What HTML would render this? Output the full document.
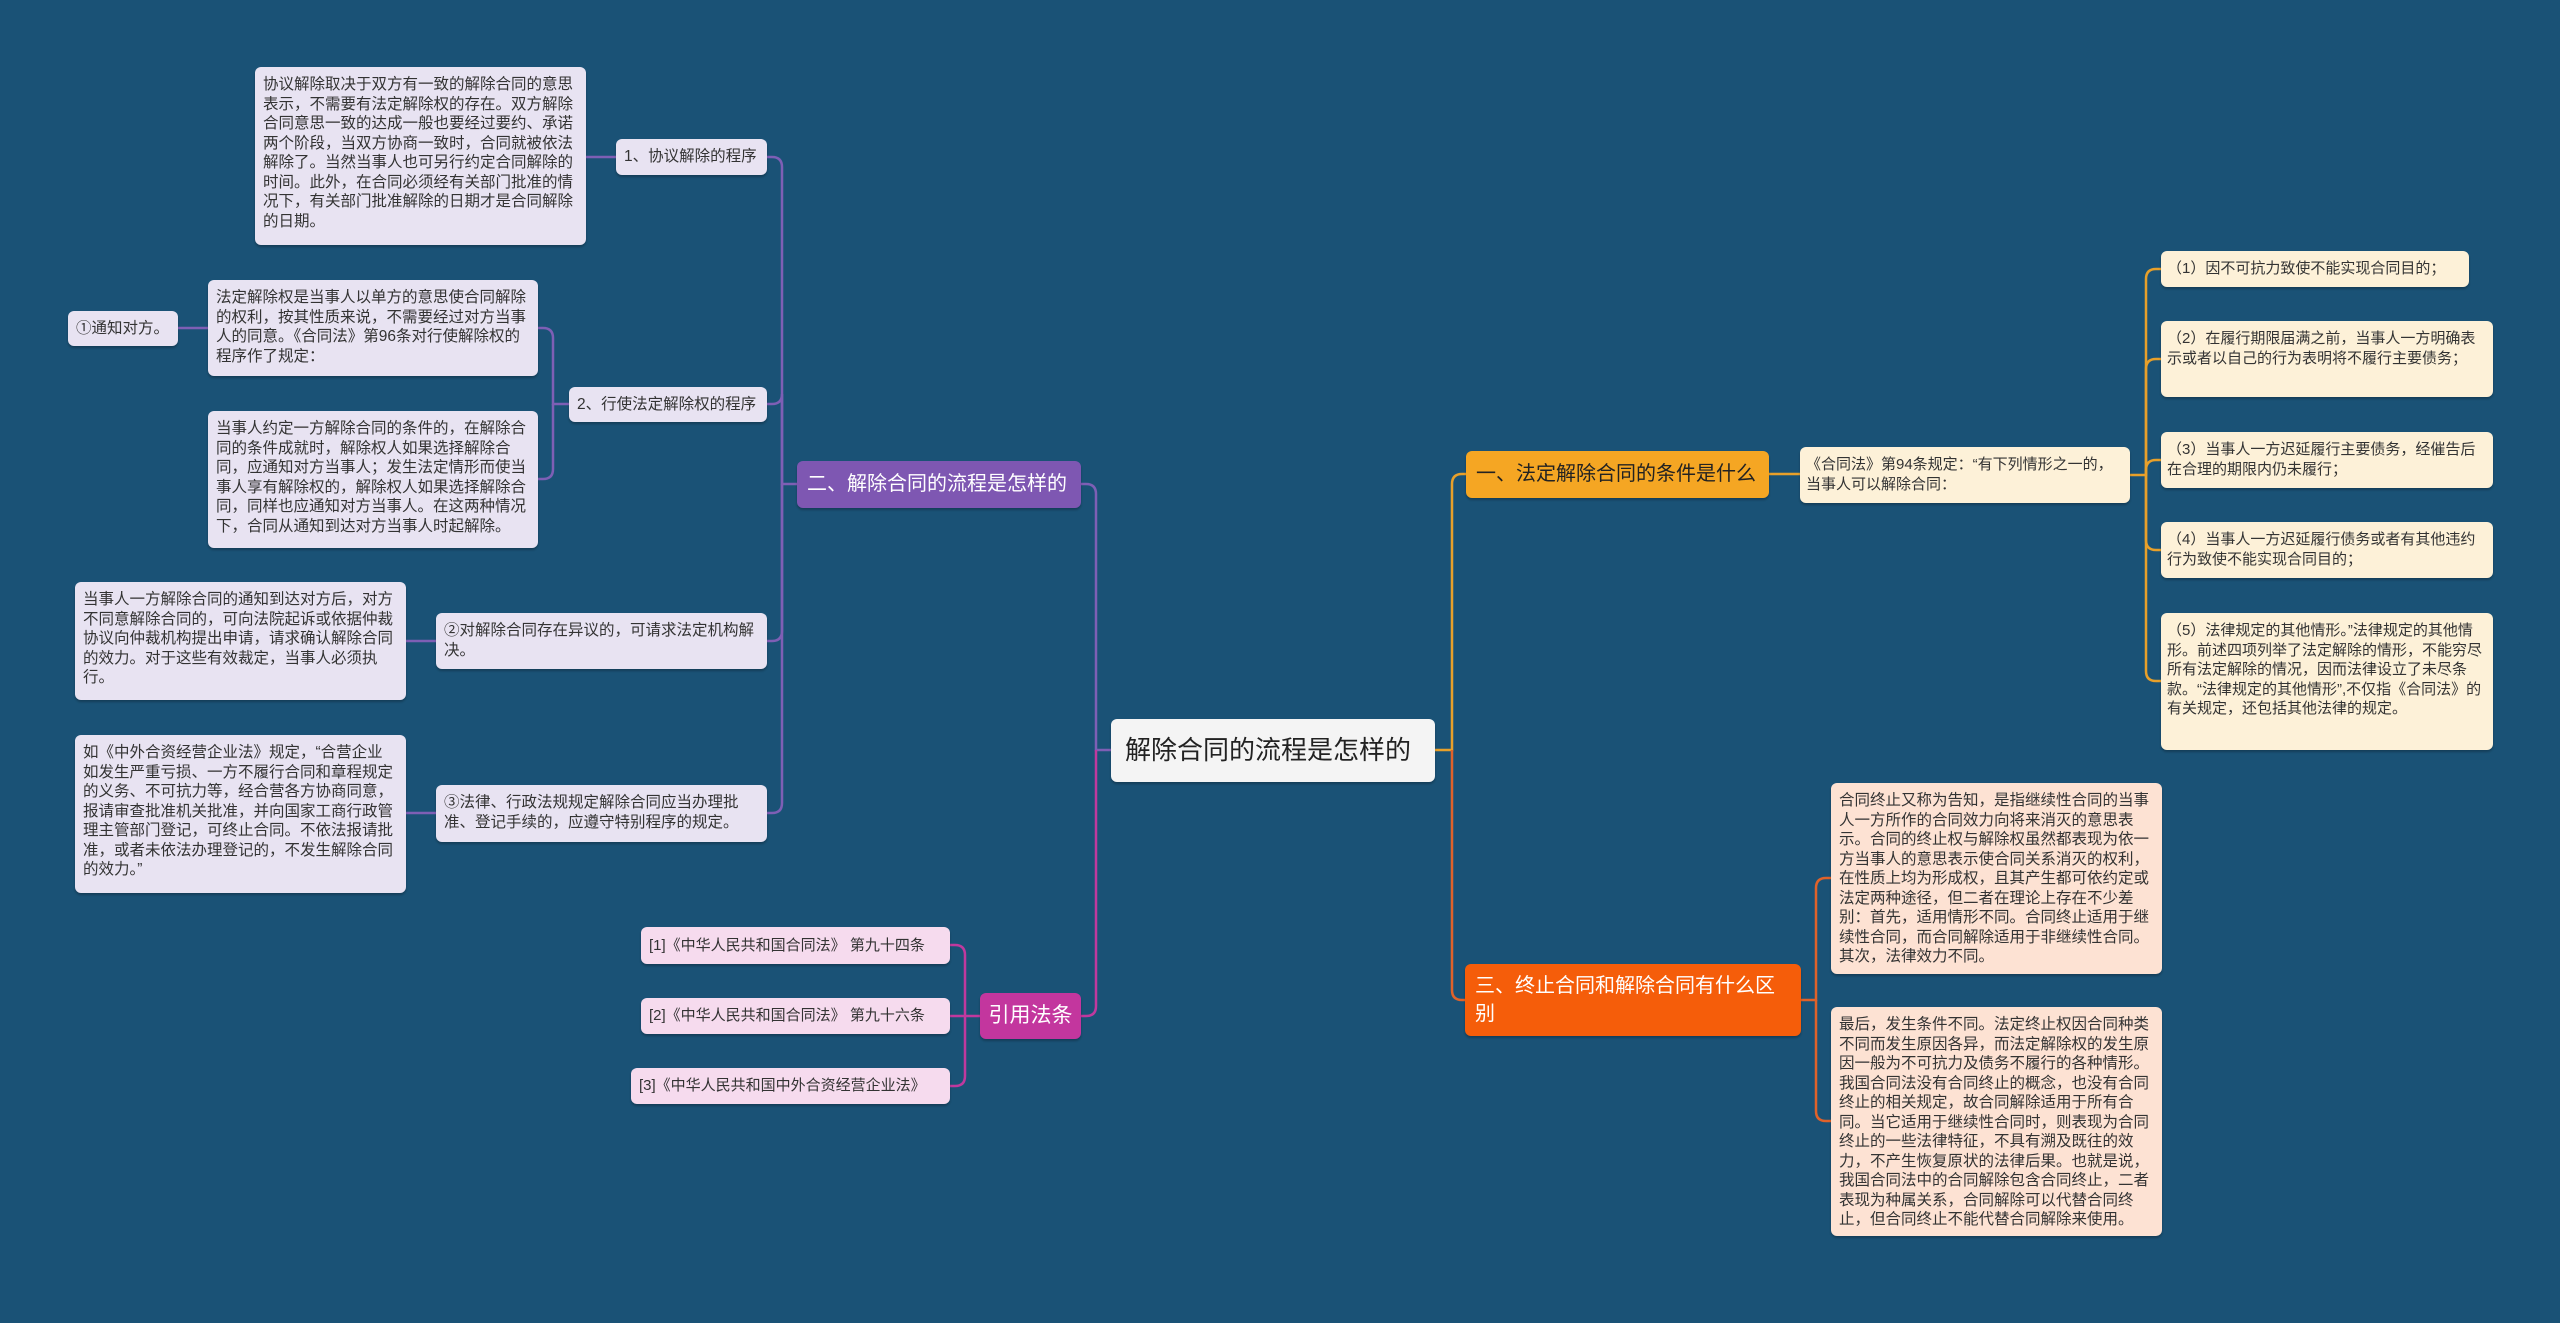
<!DOCTYPE html>
<html><head><meta charset="utf-8"><style>
body{margin:0;width:2560px;height:1323px;background:#1a5276;position:relative;overflow:hidden;font-family:"Liberation Sans","Noto Sans CJK SC",sans-serif}
.n{position:absolute;box-sizing:border-box;border-radius:6px;color:#333;font-size:15.5px;line-height:19.5px;padding:8px 8px;word-break:break-all;box-shadow:0 2px 2px rgba(0,0,0,.25)}
.p{background:#e8e3f2}.y{background:#fdf1d8;font-size:15px;padding:8px 6px}.r{background:#fde2d3}.k{background:#f6dbee}
.t{display:flex;align-items:center;white-space:nowrap;padding-top:0;padding-bottom:0}
svg{position:absolute;left:0;top:0}
</style></head><body>
<svg width="2560" height="1323" fill="none" stroke-width="2.5">
<g stroke="#7e5fb5">
<path d="M1111 750 H1096 V494 Q1096 484 1086 484 H1081"/>
<path d="M797 484 H782 V167 Q782 157 772 157 H767"/>
<path d="M782 484 V394 Q782 404 772 404 H767"/>
<path d="M782 484 V631 Q782 641 772 641 H767"/>
<path d="M782 484 V803 Q782 813 772 813 H767"/>
<path d="M616 157 H586"/>
<path d="M569 404 H553 V338 Q553 328 543 328 H538"/>
<path d="M553 404 V469 Q553 479 543 479 H538"/>
<path d="M208 328 H178"/>
<path d="M436 641 H406"/>
<path d="M436 813 H406"/>
</g>
<g stroke="#c0399e">
<path d="M1096 750 V1006 Q1096 1016 1086 1016 H1081"/>
<path d="M980 1016 H965 V955 Q965 945 955 945 H950"/>
<path d="M965 1016 H950"/>
<path d="M965 1016 V1076 Q965 1086 955 1086 H950"/>
</g>
<g stroke="#e8a02a">
<path d="M1435 750 H1452 V484 Q1452 474 1462 474 H1466"/>
<path d="M1769 474 H1800"/>
<path d="M2130 475 H2146 V279 Q2146 269 2156 269 H2161"/>
<path d="M2146 475 V369 Q2146 359 2156 359 H2161"/>
<path d="M2146 475 V470 Q2146 460 2156 460 H2161"/>
<path d="M2146 475 V540 Q2146 550 2156 550 H2161"/>
<path d="M2146 475 V671 Q2146 681 2156 681 H2161"/>
</g>
<g stroke="#e0622a">
<path d="M1452 750 V990 Q1452 1000 1462 1000 H1465"/>
<path d="M1801 1000 H1816 V888 Q1816 878 1826 878 H1831"/>
<path d="M1816 1000 V1111 Q1816 1121 1826 1121 H1831"/>
</g>
</svg>

<div class="n t" style="left:1111px;top:719px;width:324px;height:63px;background:#f4f4f4;font-size:26px;padding:0 14px;color:#222">解除合同的流程是怎样的</div>

<div class="n t" style="left:797px;top:461px;width:284px;height:47px;background:#7e57b2;color:#fff;font-size:20px;padding:0 10px">二、解除合同的流程是怎样的</div>
<div class="n t" style="left:980px;top:993px;width:101px;height:46px;background:#c3369e;color:#fff;font-size:21px;justify-content:center;padding:0">引用法条</div>
<div class="n t" style="left:1466px;top:451px;width:303px;height:47px;background:#f5a623;color:#222;font-size:20px;padding:0 10px">一、法定解除合同的条件是什么</div>
<div class="n" style="left:1465px;top:964px;width:336px;height:72px;background:#f55d0a;color:#fff;font-size:20px;line-height:28px;padding:8px 10px">三、终止合同和解除合同有什么区别</div>

<div class="n p" style="left:255px;top:67px;width:331px;height:178px">协议解除取决于双方有一致的解除合同的意思表示，不需要有法定解除权的存在。双方解除合同意思一致的达成一般也要经过要约、承诺两个阶段，当双方协商一致时，合同就被依法解除了。当然当事人也可另行约定合同解除的时间。此外，在合同必须经有关部门批准的情况下，有关部门批准解除的日期才是合同解除的日期。</div>
<div class="n p t" style="left:616px;top:139px;width:151px;height:36px">1、协议解除的程序</div>
<div class="n p t" style="left:68px;top:311px;width:110px;height:35px">①通知对方。</div>
<div class="n p" style="left:208px;top:280px;width:330px;height:96px">法定解除权是当事人以单方的意思使合同解除的权利，按其性质来说，不需要经过对方当事人的同意。《合同法》第96条对行使解除权的程序作了规定：</div>
<div class="n p" style="left:208px;top:411px;width:330px;height:137px">当事人约定一方解除合同的条件的，在解除合同的条件成就时，解除权人如果选择解除合同，应通知对方当事人；发生法定情形而使当事人享有解除权的，解除权人如果选择解除合同，同样也应通知对方当事人。在这两种情况下，合同从通知到达对方当事人时起解除。</div>
<div class="n p t" style="left:569px;top:387px;width:198px;height:35px">2、行使法定解除权的程序</div>
<div class="n p" style="left:75px;top:582px;width:331px;height:118px">当事人一方解除合同的通知到达对方后，对方不同意解除合同的，可向法院起诉或依据仲裁协议向仲裁机构提出申请，请求确认解除合同的效力。对于这些有效裁定，当事人必须执行。</div>
<div class="n p" style="left:436px;top:613px;width:331px;height:56px">②对解除合同存在异议的，可请求法定机构解决。</div>
<div class="n p" style="left:75px;top:735px;width:331px;height:158px">如《中外合资经营企业法》规定，“合营企业如发生严重亏损、一方不履行合同和章程规定的义务、不可抗力等，经合营各方协商同意，报请审查批准机关批准，并向国家工商行政管理主管部门登记，可终止合同。不依法报请批准，或者未依法办理登记的，不发生解除合同的效力。”</div>
<div class="n p" style="left:436px;top:785px;width:331px;height:57px">③法律、行政法规规定解除合同应当办理批准、登记手续的，应遵守特别程序的规定。</div>

<div class="n k t" style="left:641px;top:927px;width:309px;height:37px;font-size:15px">[1]《中华人民共和国合同法》 第九十四条</div>
<div class="n k t" style="left:641px;top:998px;width:309px;height:36px;font-size:15px">[2]《中华人民共和国合同法》 第九十六条</div>
<div class="n k t" style="left:631px;top:1068px;width:319px;height:36px;font-size:15px">[3]《中华人民共和国中外合资经营企业法》</div>

<div class="n y" style="left:1800px;top:447px;width:330px;height:56px">《合同法》第94条规定：“有下列情形之一的，当事人可以解除合同：</div>
<div class="n y t" style="left:2161px;top:251px;width:308px;height:36px">（1）因不可抗力致使不能实现合同目的；</div>
<div class="n y" style="left:2161px;top:321px;width:332px;height:76px">（2）在履行期限届满之前，当事人一方明确表示或者以自己的行为表明将不履行主要债务；</div>
<div class="n y" style="left:2161px;top:432px;width:332px;height:56px">（3）当事人一方迟延履行主要债务，经催告后在合理的期限内仍未履行；</div>
<div class="n y" style="left:2161px;top:522px;width:332px;height:56px">（4）当事人一方迟延履行债务或者有其他违约行为致使不能实现合同目的；</div>
<div class="n y" style="left:2161px;top:613px;width:332px;height:137px">（5）法律规定的其他情形。”法律规定的其他情形。前述四项列举了法定解除的情形，不能穷尽所有法定解除的情况，因而法律设立了未尽条款。“法律规定的其他情形”,不仅指《合同法》的有关规定，还包括其他法律的规定。</div>

<div class="n r" style="left:1831px;top:783px;width:331px;height:191px">合同终止又称为告知，是指继续性合同的当事人一方所作的合同效力向将来消灭的意思表示。合同的终止权与解除权虽然都表现为依一方当事人的意思表示使合同关系消灭的权利，在性质上均为形成权，且其产生都可依约定或法定两种途径，但二者在理论上存在不少差别：首先，适用情形不同。合同终止适用于继续性合同，而合同解除适用于非继续性合同。其次，法律效力不同。</div>
<div class="n r" style="left:1831px;top:1007px;width:331px;height:229px">最后，发生条件不同。法定终止权因合同种类不同而发生原因各异，而法定解除权的发生原因一般为不可抗力及债务不履行的各种情形。我国合同法没有合同终止的概念，也没有合同终止的相关规定，故合同解除适用于所有合同。当它适用于继续性合同时，则表现为合同终止的一些法律特征，不具有溯及既往的效 力，不产生恢复原状的法律后果。也就是说，我国合同法中的合同解除包含合同终止，二者表现为种属关系，合同解除可以代替合同终止，但合同终止不能代替合同解除来使用。</div>
</body></html>
